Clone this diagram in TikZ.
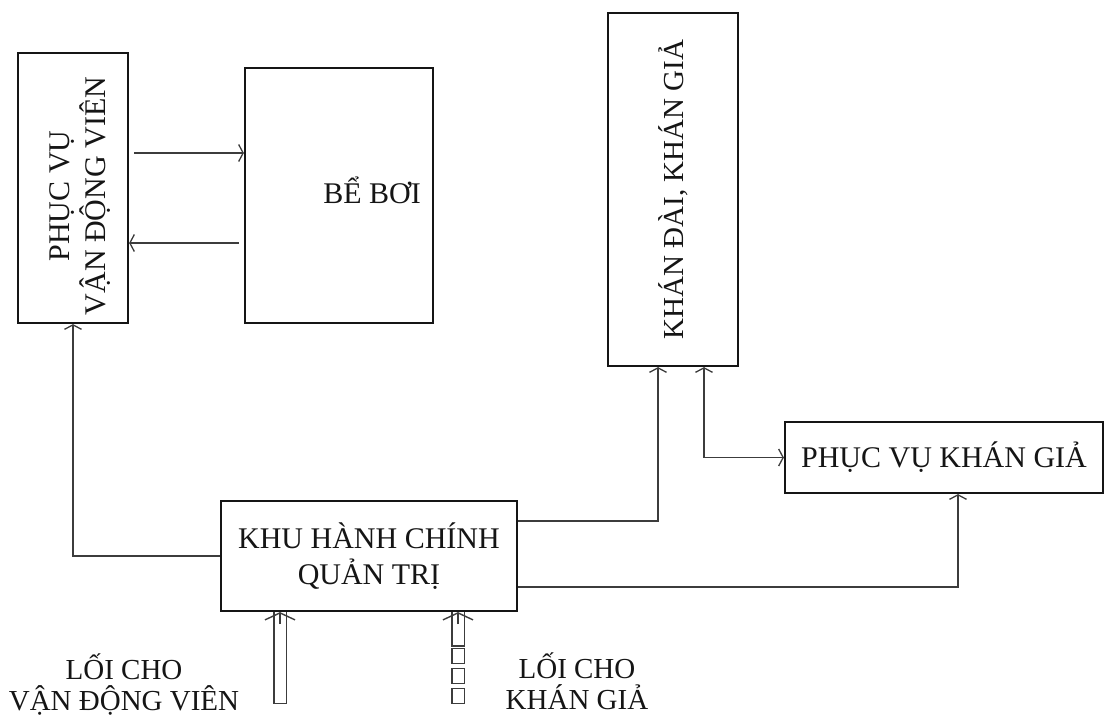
\documentclass[tikz,border=0pt]{standalone}
\usepackage{fontspec}
\setmainfont{Liberation Serif}
\usetikzlibrary{arrows.meta, positioning, calc, backgrounds}
\definecolor{Ink}{HTML}{151515}
\definecolor{Wire}{HTML}{3C3C3C}

\begin{document}
\begin{tikzpicture}[
    x=1pt,
    y=-1pt,
    font=\fontsize{30}{36}\selectfont,
    box/.style={draw=Ink, fill=white, line width=2.2pt, inner sep=0pt, align=center, text=Ink},
    flow/.style={-{Straight Barb[length=4.5pt,width=17pt]}, line width=1.3pt, draw=Wire},
    twoway/.style={{Straight Barb[length=4.5pt,width=17pt]}-{Straight Barb[length=4.5pt,width=17pt]}, line width=1.3pt, draw=Wire},
    entry/.style={draw=Wire, line width=1.4pt, double=white, double distance=11pt, line cap=rect},
    gatehead/.style={-{Straight Barb[length=7pt,width=30pt]}, line width=1.4pt, draw=Wire},
    gatelabel/.style={align=center, text=Ink, inner sep=0pt, font=\fontsize{29}{31}\selectfont}
  ]
  \useasboundingbox (0,0) rectangle (1107,720);

  \node[box, minimum width=110pt, minimum height=270pt,
        label={[rotate=90, xshift=-8pt, yshift=-7pt, align=center, text=Ink]center:{PHỤC VỤ\\VẬN ĐỘNG VIÊN}}] (athlete) at (73,188) {};
  \node[box, minimum width=188pt, minimum height=255pt,
        label={[xshift=33pt, yshift=5pt, text=Ink]center:{BỂ BƠI}}] (pool) at (339,195.5) {};
  \node[box, minimum width=130pt, minimum height=353pt,
        label={[rotate=90, text=Ink, font=\fontsize{29}{36}\selectfont]center:{KHÁN ĐÀI, KHÁN GIẢ}}] (stands) at (673,189.5) {};
  \node[box, minimum width=318pt, minimum height=71pt] (service) at (944,457.5) {PHỤC VỤ KHÁN GIẢ};
  \node[box, minimum width=296pt, minimum height=110pt] (admin) at (369,556) {KHU HÀNH CHÍNH\\QUẢN TRỊ};

  \coordinate (athletegate) at (280,697);
  \coordinate (spectgate) at (458,697);
  \node[gatelabel] (athletelbl) at (124,685) {LỐI CHO\\VẬN ĐỘNG VIÊN};
  \node[gatelabel] (spectlbl) at (577,681) {LỐI CHO\\KHÁN GIẢ};

  \draw[flow, shorten <=5pt] ([yshift=35pt]athlete.east) -- ([yshift=35pt]athlete.east -| pool.west);
  \draw[flow, shorten <=5pt] ([yshift=-55pt]athlete.east -| pool.west) -- ([yshift=-55pt]athlete.east);
  \draw[flow] (admin.west) -| (athlete.south);
  \draw[flow] ([yshift=35pt]admin.east) -| ([xshift=-15pt]stands.south);
  \draw[twoway] ([xshift=31pt]stands.south) |- (service.west);
  \draw[flow] ([yshift=-31pt]admin.east) -| ([xshift=14pt]service.south);

  \begin{scope}[on background layer]
    \draw[entry] (athletegate) -- (athletegate |- admin.south);
    \draw[entry, dash pattern=on 2.4pt off 17.6pt on 2.4pt off 17.6pt on 2.4pt off 15pt on 200pt] (spectgate) -- (spectgate |- admin.south);
  \end{scope}
  \draw[gatehead] ([yshift=-12pt]athletegate |- admin.south) -- (athletegate |- admin.south);
  \draw[gatehead] ([yshift=-12pt]spectgate |- admin.south) -- (spectgate |- admin.south);
\end{tikzpicture}
\end{document}
